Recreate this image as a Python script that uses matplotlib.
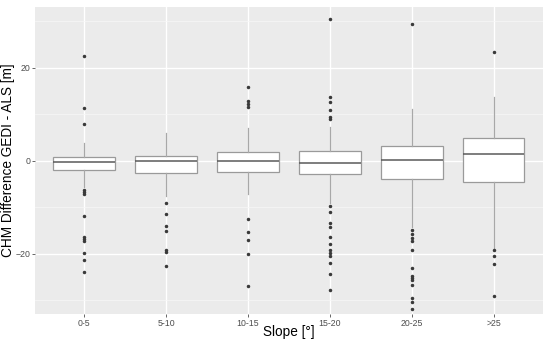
import matplotlib
matplotlib.use("Agg")
import matplotlib.pyplot as plt

# slope classes and the boxplot statistics (CHM difference, m)
slopes = ["0-5", "5-10", "10-15", "15-20", "20-25", ">25"]
q1 = [-2.0, -2.7, -2.4, -2.8, -3.9, -4.5]
med = [-0.2, -0.1, 0.0, -0.4, 0.1, 1.4]
q3 = [0.7, 1.0, 1.9, 2.0, 3.1, 4.9]
whislo = [-5.6, -7.5, -7.2, -9.1, -14.3, -19.1]
whishi = [3.9, 5.9, 7.0, 7.2, 11.2, 13.8]
outliers = [
    [22.6, 11.4, 7.8, -6.2, -6.8, -7.2, -11.8, -16.5, -16.9, -17.3, -19.9, -21.4, -23.9],
    [-9.0, -11.5, -14.1, -15.1, -19.1, -19.6, -22.7],
    [15.9, 12.8, 12.3, 11.5, -12.6, -15.3, -17.1, -20.1, -26.9],
    [30.5, 13.8, 12.7, 11.0, 9.3, 9.0, -9.7, -11.0, -13.3, -14.2, -16.3, -18.0,
     -19.1, -19.9, -20.4, -22.1, -24.4, -27.7],
    [29.4, -14.9, -15.8, -16.6, -17.3, -19.2, -23.0, -24.7, -25.2, -25.6, -26.7,
     -29.5, -30.3, -31.8],
    [23.4, -19.2, -20.4, -22.3, -29.0],
]

stats = []
for i, s in enumerate(slopes):
    stats.append(dict(label=s, q1=q1[i], med=med[i], q3=q3[i],
                      whislo=whislo[i], whishi=whishi[i], fliers=outliers[i]))

plt.rcParams['font.family'] = ['Liberation Sans', 'DejaVu Sans']

fig = plt.figure(figsize=(5.5, 3.42), dpi=100)
ax = fig.add_axes([0.0636, 0.0827, 0.9234, 0.896])
ax.set_facecolor('#EBEBEB')
for sp in ax.spines.values():
    sp.set_visible(False)

positions = list(range(1, len(slopes) + 1))
ax.bxp(stats, positions=positions, widths=0.75, patch_artist=True, showcaps=False,
       boxprops=dict(facecolor='white', edgecolor='#9A9A9A', linewidth=0.9),
       medianprops=dict(color='#5A5A5A', linewidth=1.1),
       whiskerprops=dict(color='#A8A8A8', linewidth=0.9),
       flierprops=dict(marker='o', markersize=1.5, markerfacecolor='#3A3A3A',
                       markeredgecolor='#3A3A3A', linestyle='none'),
       zorder=3)

ax.set_xlim(0.4, 6.6)
ax.set_ylim(-32.9, 33.0)
ax.set_yticks([-20, 0, 20])
ax.set_yticks([-30, -10, 10, 30], minor=True)
ax.set_xticks(positions)
ax.set_xticklabels(slopes)
ax.grid(which='major', color='white', linewidth=1.0)
ax.grid(which='minor', axis='y', color='#F7F7F7', linewidth=0.5)
ax.set_axisbelow(True)
ax.tick_params(axis='both', which='major', colors='#4D4D4D', labelsize=6.3,
               length=2.0, width=0.6, pad=1.5)
ax.tick_params(axis='y', which='minor', length=0)

ax.set_xlabel('Slope [°]', fontsize=9.8)
ax.set_ylabel('CHM Difference GEDI - ALS [m]', fontsize=9.8)
ax.xaxis.set_label_coords(0.5, -0.038)
ax.yaxis.set_label_coords(-0.039, 0.5)

fig.savefig('out.png', dpi=100)
